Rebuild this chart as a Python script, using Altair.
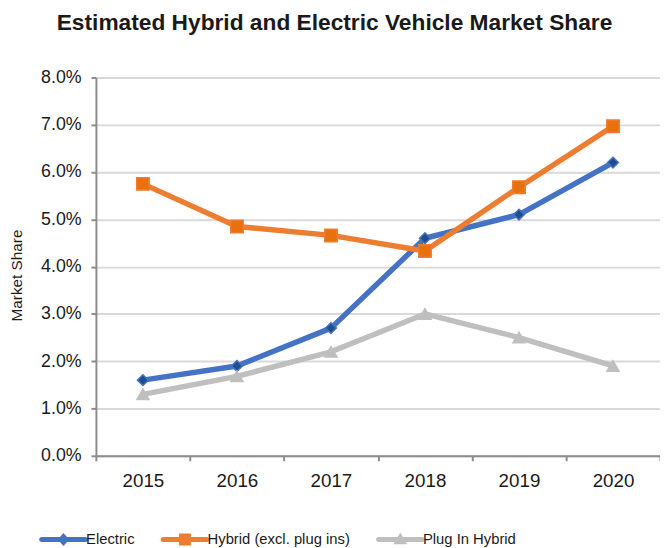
import altair as alt
import pandas as pd

years = ["2015", "2016", "2017", "2018", "2019", "2020"]
electric = [1.6, 1.9, 2.7, 4.6, 5.1, 6.2]
hybrid = [5.75, 4.85, 4.66, 4.33, 5.68, 6.97]
plugin = [1.3, 1.68, 2.2, 3.0, 2.5, 1.9]
series = ["Electric", "Hybrid (excl. plug ins)", "Plug In Hybrid"]
line_colors = ["#4472C4", "#ED7D31", "#BFBFBF"]
marker_fill = ["#1F4E8C", "#E8700F", "#BFBFBF"]
y_ticks = [0, 1, 2, 3, 4, 5, 6, 7, 8]

rows = []
for s, vals in zip(series, [electric, hybrid, plugin]):
    for yr, v in zip(years, vals):
        rows.append({"Year": yr, "Series": s, "Share": v / 100.0})
df = pd.DataFrame(rows)

x_enc = alt.X("Year:N", sort=years,
              scale=alt.Scale(type="band", paddingInner=0, paddingOuter=0),
              axis=alt.Axis(title=None, tickBand="extent", labelAngle=0,
                            labelFont="Liberation Sans", labelFontSize=19,
                            labelColor="#1a1a1a", labelPadding=11,
                            domainColor="#8c8c8c", domainWidth=2,
                            tickColor="#8c8c8c", tickWidth=2, tickSize=5,
                            grid=False))
y_enc = alt.Y("Share:Q",
              scale=alt.Scale(domain=[0, 0.08], nice=False),
              axis=alt.Axis(title="Market Share", format=".1%",
                            values=[v / 100.0 for v in y_ticks],
                            labelFont="Liberation Sans", labelFontSize=18,
                            labelColor="#1a1a1a", labelPadding=10,
                            titleFont="Liberation Sans", titleFontSize=15.5,
                            titleFontWeight="normal", titleColor="#1a1a1a",
                            titlePadding=16, titleY=200,
                            domainColor="#8c8c8c", domainWidth=2,
                            tickColor="#8c8c8c", tickWidth=2, tickSize=5,
                            grid=True, gridColor="#D9D9D9", gridWidth=2))
color_scale = alt.Scale(domain=series, range=line_colors)

line_layers = []
for s, lc in zip(series, line_colors):
    line_layers.append(
        alt.Chart(df).transform_filter(alt.datum.Series == s)
        .mark_line(strokeWidth=5.5, strokeCap="round", strokeJoin="round", color=lc)
        .encode(x=x_enc, y=y_enc)
    )

# legend symbols: rounded line with a marker in the middle
bar = "M-1,-0.57H9A0.57,0.57 0 0 1 9,0.57H-1A0.57,0.57 0 0 1 -1,-0.57Z"
legend_paths = [
    bar + " M4,-1.5L5.3,0L4,1.5L2.7,0Z",
    bar + " M2.64,-1.36H5.36V1.36H2.64Z",
    bar + " M4,-1.6L5.6,1.1H2.4Z",
]
leg = alt.Legend(
    title=None, orient="none", direction="horizontal", columns=3,
    legendX=-58, legendY=460,
    symbolSize=78, symbolStrokeWidth=0, symbolOpacity=1,
    labelFont="Liberation Sans", labelFontSize=15,
    labelColor="#1a1a1a", labelOffset=33, columnPadding=25,
)
legend_layer = alt.Chart(df).mark_point(filled=True, size=1).encode(
    x=x_enc, y=y_enc,
    color=alt.Color("Series:N", scale=color_scale, legend=leg),
    shape=alt.Shape("Series:N", scale=alt.Scale(domain=series, range=legend_paths),
                    legend=leg),
)

shapes = ["diamond", "square", "triangle-up"]
sizes = [120, 160, 150]
point_layers = []
for s, shp, sz, fc, lc in zip(series, shapes, sizes, marker_fill, line_colors):
    point_layers.append(
        alt.Chart(df).transform_filter(alt.datum.Series == s)
        .mark_point(shape=shp, size=sz, filled=True, fill=fc, stroke=lc,
                    strokeWidth=1.5, opacity=1)
        .encode(x=x_enc, y=y_enc)
    )

chart = alt.layer(*line_layers, legend_layer, *point_layers).properties(
    width=571, height=383,
    title=alt.TitleParams(
        "Estimated Hybrid and Electric Vehicle Market Share",
        font="Liberation Sans", fontSize=23, fontWeight="bold",
        color="#1a1a1a", anchor="middle", offset=34, dx=-44,
    ),
    autosize=alt.AutoSizeParams(type="none"),
    padding={"left": 89, "top": 67, "right": 0, "bottom": 89},
).configure_view(stroke=None)

chart.save("out.html", embed_options={"renderer": "svg", "actions": False})
